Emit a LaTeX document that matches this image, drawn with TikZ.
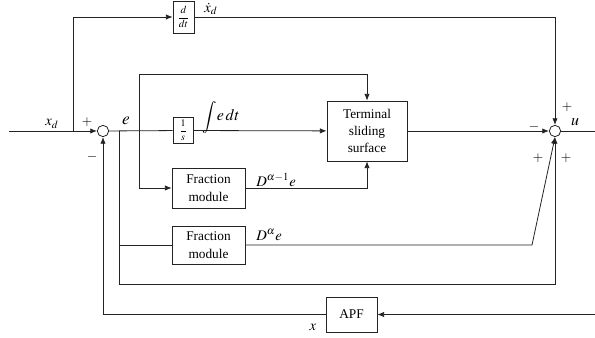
\documentclass[tikz,border=0pt]{standalone}
\usepackage{mathptmx}
\usepackage{fontspec}
\setmainfont{Liberation Serif}
\usetikzlibrary{arrows.meta,calc}
\begin{document}
\begin{tikzpicture}[x=0.75pt,y=-0.75pt,
  line width=0.6pt, draw={rgb,255:red,35;green,35;blue,35},
  >={Latex[length=5pt,width=4pt]},
  blk/.style={draw, inner sep=0pt, align=center, font=\fontsize{10}{13}\selectfont},
  sumc/.style={draw, circle, minimum size=8.5pt, inner sep=0pt},
  lbl/.style={inner sep=0pt, font=\fontsize{11}{13}\selectfont},
  sgn/.style={inner sep=0pt, font=\fontsize{10}{12}\selectfont}]
\useasboundingbox (0,0) rectangle (595,338);
% nodes
\node[sumc] (s1) at (103,131) {};
\node[sumc] (s2) at (555,131) {};
\node[blk, minimum width=15.75pt, minimum height=24pt] (ddt) at (183.5,17) {\fontsize{8}{9}\selectfont$\displaystyle\frac{d}{dt}$};
\node[blk, minimum width=15pt, minimum height=19.5pt] (ints) at (183,130.5) {\fontsize{7.5}{9}\selectfont$\displaystyle\frac{1}{s}$};
\node[blk, minimum width=60pt, minimum height=45pt] (term) at (367,131) {Terminal\\sliding\\surface};
\node[blk, minimum width=54.75pt, minimum height=30pt] (fr1) at (208.5,188) {Fraction\\module};
\node[blk, minimum width=54.75pt, minimum height=28.5pt] (fr2) at (208.5,245) {Fraction\\module};
\node[blk, minimum width=38.25pt, minimum height=26.25pt] (apf) at (351.5,314.5) {APF};
% coordinates
\coordinate (in) at (9,131);
\coordinate (b1) at (73,131);
\coordinate (b2) at (119,131);
\coordinate (b3) at (139,131);
\coordinate (top) at (367,74);
\coordinate (bot) at (555,284);
\coordinate (sl) at (532,245);
\coordinate (out) at (595,131);
\coordinate (inr) at (595,314.5);
% connectors
\draw[->] (in) -- (s1);
\draw[->] (b1) |- (ddt);
\draw[->] (ddt) -| (s2);
\draw (s1) -- (ints);
\draw[->] (ints) -- (term);
\draw[->] (b3) |- (top) -- (term);
\draw[->] (b3) |- (fr1);
\draw[->] (fr1) -| (term);
\draw (b2) |- (fr2);
\draw[->] (b2) |- (bot) -- (s2);
\draw[->] (fr2) -- (sl) -- (s2.south);
\draw[->] (term) -- (s2);
\draw (s2) -- (out);
\draw[->] (inr) -- (apf);
\draw[->] (apf) -| (s1);
% labels
\node[lbl] (lxd) at (52,124) {$x_d$};
\node[lbl] (ldxd) at (211,9) {$\dot{x}_d$};
\node[lbl, font=\fontsize{13}{15}\selectfont] (le) at (126,121) {$e$};
\node[lbl, anchor=west, font=\fontsize{12}{14}\selectfont] (lint) at (202,117) {$\displaystyle\int\! e\,dt$};
\node[lbl, anchor=west] (ld1) at (256,180) {$D^{\alpha-1}e$};
\node[lbl, anchor=west] (ld2) at (256,235) {$D^{\alpha}e$};
\node[lbl, font=\fontsize{12}{14}\selectfont] (lu) at (575,122) {$u$};
\node[lbl] (lx) at (313,327) {$x$};
\node[sgn] (p1) at (87,122) {$+$};
\node[sgn] (m1) at (92,157) {$-$};
\node[sgn] (m2) at (534,127) {$-$};
\node[sgn] (p2) at (567,107) {$+$};
\node[sgn] (p3) at (538,158) {$+$};
\node[sgn] (p4) at (566,158) {$+$};
\end{tikzpicture}
\end{document}
